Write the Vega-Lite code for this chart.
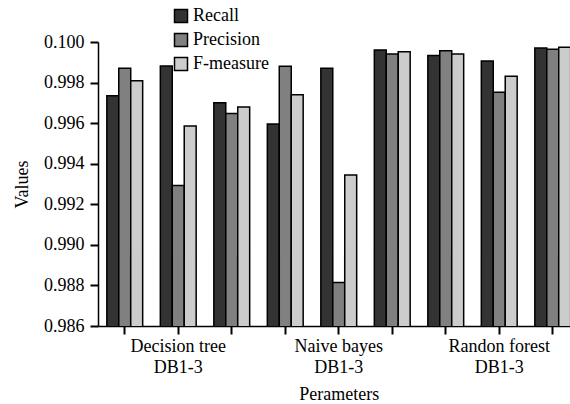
{
  "$schema": "https://vega.github.io/schema/vega-lite/v6.json",
  "autosize": "none",
  "padding": {"left": 98, "top": 42, "right": 0, "bottom": 78},
  "width": 481.5,
  "height": 284,
  "background": "white",
  "config": {
    "view": {"stroke": null},
    "font": "Times New Roman, Liberation Serif, DejaVu Serif, serif",
    "axis": {"labelFont": "Times New Roman, Liberation Serif, DejaVu Serif, serif", "titleFont": "Times New Roman, Liberation Serif, DejaVu Serif, serif", "labelColor": "black", "titleColor": "black", "domainColor": "black", "tickColor": "black", "grid": false, "titleFontWeight": "normal"},
    "legend": {"labelFont": "Times New Roman, Liberation Serif, DejaVu Serif, serif"}
  },
  "data": {
    "values": [
      {"group": "g1", "measure": "Recall", "value": 0.99735},
      {"group": "g1", "measure": "Precision", "value": 0.99870},
      {"group": "g1", "measure": "F-measure", "value": 0.99809},
      {"group": "g2", "measure": "Recall", "value": 0.99882},
      {"group": "g2", "measure": "Precision", "value": 0.99292},
      {"group": "g2", "measure": "F-measure", "value": 0.99586},
      {"group": "g3", "measure": "Recall", "value": 0.99701},
      {"group": "g3", "measure": "Precision", "value": 0.99648},
      {"group": "g3", "measure": "F-measure", "value": 0.99680},
      {"group": "g4", "measure": "Recall", "value": 0.99596},
      {"group": "g4", "measure": "Precision", "value": 0.99880},
      {"group": "g4", "measure": "F-measure", "value": 0.99740},
      {"group": "g5", "measure": "Recall", "value": 0.99870},
      {"group": "g5", "measure": "Precision", "value": 0.98815},
      {"group": "g5", "measure": "F-measure", "value": 0.99344},
      {"group": "g6", "measure": "Recall", "value": 0.99961},
      {"group": "g6", "measure": "Precision", "value": 0.99941},
      {"group": "g6", "measure": "F-measure", "value": 0.99952},
      {"group": "g7", "measure": "Recall", "value": 0.99934},
      {"group": "g7", "measure": "Precision", "value": 0.99957},
      {"group": "g7", "measure": "F-measure", "value": 0.99941},
      {"group": "g8", "measure": "Recall", "value": 0.99906},
      {"group": "g8", "measure": "Precision", "value": 0.99752},
      {"group": "g8", "measure": "F-measure", "value": 0.99831},
      {"group": "g9", "measure": "Recall", "value": 0.99970},
      {"group": "g9", "measure": "Precision", "value": 0.99964},
      {"group": "g9", "measure": "F-measure", "value": 0.99974}
    ]
  },
  "mark": {"type": "bar", "stroke": "black", "strokeWidth": 1.5, "clip": true},
  "encoding": {
    "x": {
      "field": "group", "type": "nominal", "sort": null,
      "scale": {"paddingInner": 0.33, "paddingOuter": 0.165},
      "axis": {
        "title": "Perameters", "titleFontSize": 18, "titlePadding": 9,
        "labelFontSize": 18, "labelAngle": 0, "labelPadding": 3, "labelLineHeight": 21,
        "labelExpr": "datum.value == 'g2' ? ['Decision tree', 'DB1-3'] : datum.value == 'g5' ? ['Naive bayes', 'DB1-3'] : datum.value == 'g8' ? ['Randon forest', 'DB1-3'] : ''",
        "tickSize": 8, "tickWidth": 2, "domainWidth": 1.5
      }
    },
    "xOffset": {"field": "measure", "type": "nominal", "sort": ["Recall", "Precision", "F-measure"]},
    "y": {
      "field": "value", "type": "quantitative",
      "scale": {"domain": [0.986, 1.0], "zero": false, "nice": false},
      "axis": {
        "title": "Values", "titleFontSize": 18, "titlePadding": 12,
        "labelFontSize": 18, "labelPadding": 6,
        "values": [0.986, 0.988, 0.99, 0.992, 0.994, 0.996, 0.998, 1.0],
        "labelExpr": "datum.value == 1 ? '0.100' : format(datum.value, '.3f')",
        "tickSize": 8, "tickWidth": 2, "domainWidth": 1.5
      }
    },
    "color": {
      "field": "measure", "type": "nominal",
      "sort": ["Recall", "Precision", "F-measure"],
      "scale": {"domain": ["Recall", "Precision", "F-measure"], "range": ["#333333", "#808080", "#cccccc"]},
      "legend": {
        "title": null, "orient": "none", "legendX": 74, "legendY": -35,
        "symbolType": "square", "symbolSize": 169, "symbolStrokeColor": "black", "symbolStrokeWidth": 1.5,
        "labelFont": "Times New Roman, Liberation Serif, DejaVu Serif, serif", "labelFontSize": 18, "labelColor": "black",
        "rowPadding": 4, "labelOffset": 3
      }
    }
  }
}
